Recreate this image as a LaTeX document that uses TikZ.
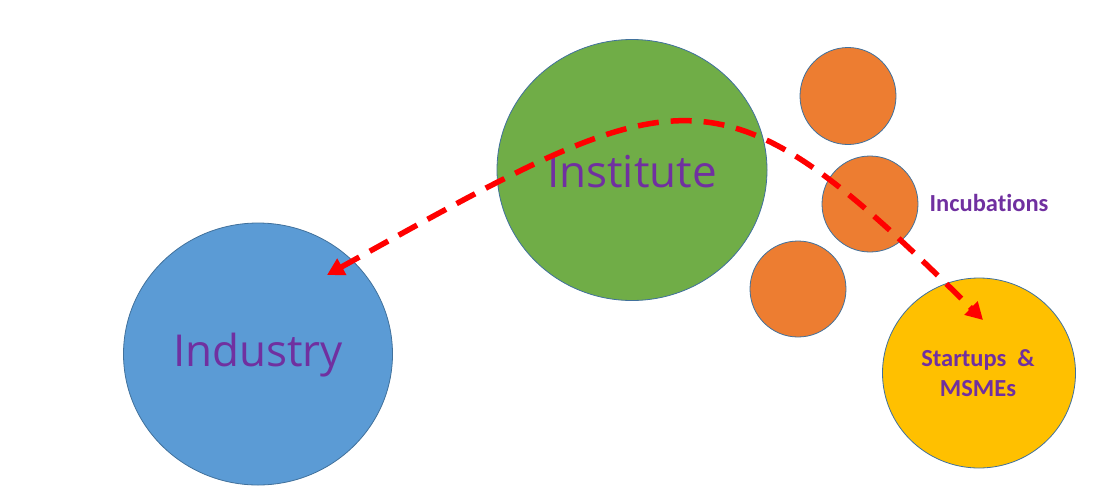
\documentclass[tikz,border=0pt]{standalone}
\usepackage{fontspec}
\setmainfont[Ligatures=NoCommon]{Carlito}
\newfontfamily\seg{Open Sans}
\usetikzlibrary{arrows.meta}
\definecolor{cblue}{HTML}{5B9BD5}
\definecolor{cgreen}{HTML}{70AD47}
\definecolor{corange}{HTML}{ED7D31}
\definecolor{cyellow}{HTML}{FFC000}
\definecolor{cedge}{HTML}{41719C}
\definecolor{cpurple}{HTML}{7030A0}
\definecolor{cred}{HTML}{FF0000}
\tikzset{
  bubble/.style={ellipse, draw=cedge, line width=0.8pt, inner sep=0pt},
  bigtext/.style={text=cpurple, font=\seg\fontsize{44}{48}\selectfont},
  smalltext/.style={text=cpurple, font=\bfseries\fontsize{24.5}{30}\selectfont, align=center},
  flow/.style={draw=cred, line width=5.5pt, dash pattern=on 21pt off 12pt,
    {Triangle[length=17pt,width=18pt]}-{Triangle[length=17pt,width=18pt]}}
}
\usetikzlibrary{shapes.geometric}
\begin{document}
\begin{tikzpicture}[x=1pt,y=-1pt]
\useasboundingbox (0,0) rectangle (1108,496);
\node[bubble, fill=cblue, minimum width=269pt, minimum height=262pt] (ind) at (258,354) {};
\node[bubble, fill=cgreen, minimum width=270pt, minimum height=261pt] (inst) at (632,170) {};
\node[bubble, fill=corange, minimum width=96pt, minimum height=97pt] (o1) at (848,96) {};
\node[bubble, fill=corange, minimum width=96pt, minimum height=96pt] (o2) at (870,204) {};
\node[bubble, fill=corange, minimum width=96pt, minimum height=96pt] (o3) at (798,289) {};
\node[bubble, fill=cyellow, minimum width=193pt, minimum height=190pt] (st) at (979,373) {};
\node[bigtext] (tinst) at (632,172) {Institute};
\node[bigtext] (tind) at (258,355) {Industry};
\node[smalltext] (tinc) at (989,203) {Incubations};
\node[smalltext] (tst) at (978,373) {Startups~~\&\\MSMEs};
\coordinate (a) at (327,275);
\coordinate (b) at (983,320);
\draw[flow] (a) .. controls (687,75) and (716,55) .. (b);
\end{tikzpicture}
\end{document}
